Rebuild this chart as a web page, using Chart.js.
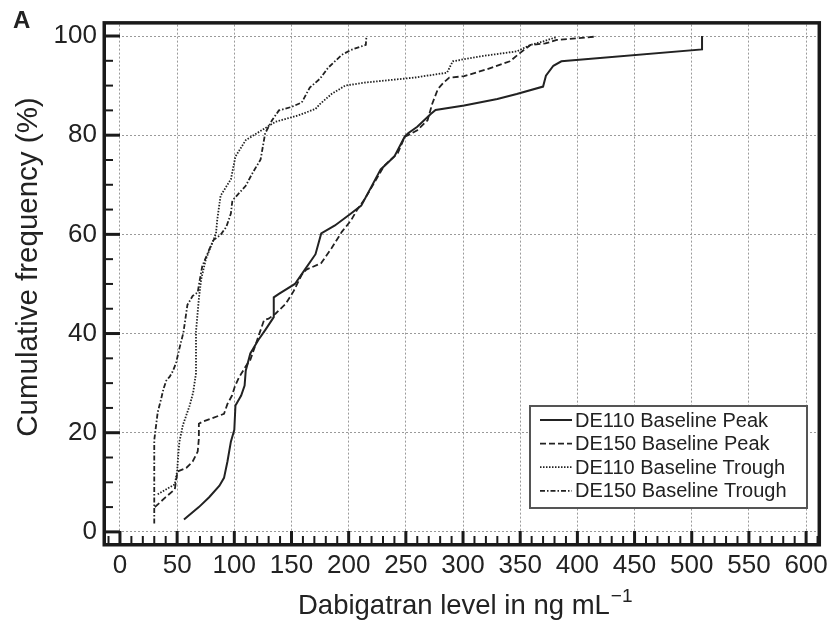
<!DOCTYPE html>
<html>
<head>
<meta charset="utf-8">
<script src="https://cdn.jsdelivr.net/npm/chart.js@4.4.1/dist/chart.umd.min.js"></script>
<style>
  body { margin: 0; background: #fff; }
  #wrap { width: 835px; height: 620px; }
</style>
</head>
<body>
<div id="wrap"><canvas id="cdf" width="835" height="620"></canvas></div>
<script>
// tick labels
const xTicks = [0, 50, 100, 150, 200, 250, 300, 350, 400, 450, 500, 550, 600];
const yTicks = [0, 20, 40, 60, 80, 100];

// series names
const seriesNames = ['DE110 Baseline Peak', 'DE150 Baseline Peak', 'DE110 Baseline Trough', 'DE150 Baseline Trough'];

// DE110 peak (solid)
const peak110X = [56, 69, 78, 87, 91, 94, 97, 100, 101, 106, 109, 110, 114, 121, 127, 134.5, 134.5, 139, 153, 162, 171, 176, 188, 202, 211, 228, 240, 249, 252, 260, 272, 276, 301, 330, 347, 370, 372.5, 379, 386, 509, 509];
const peak110Y = [2.5, 5, 7, 9.3, 10.9, 14.2, 18.2, 20.6, 25.5, 27.5, 29.5, 32.5, 36, 38.7, 40.7, 43.3, 47.3, 48, 50, 53, 56, 60.2, 61.8, 64.2, 65.8, 73.1, 75.7, 79.7, 80.4, 81.7, 84.3, 85.1, 86, 87.3, 88.3, 89.8, 92, 94, 94.9, 97.3, 100];

// DE150 peak (dashed)
const peak150X = [30.5, 40, 48, 49, 50.5, 58, 63.6, 68, 69, 69, 72, 91, 94, 98, 100.6, 104, 110, 114, 120, 126, 130, 136, 145, 152, 159, 163, 176, 185, 194, 202, 207, 214, 231, 243, 249, 252, 260, 269, 273, 278, 283, 288, 301, 321, 341, 350, 359, 372, 382, 417];
const peak150Y = [5, 7, 8.6, 10.3, 12.2, 12.9, 14.2, 16.2, 18.8, 21.8, 22.2, 23.8, 25.8, 27.5, 29.4, 31.1, 33.4, 34.7, 38.7, 42.7, 43, 44, 46, 48.6, 51.9, 52.9, 54.2, 57.2, 60.5, 62.8, 64.8, 67.1, 73.8, 76.4, 79.7, 80, 81, 83, 86.3, 89.3, 90.6, 91.6, 91.9, 93.3, 94.9, 96.6, 98.2, 98.5, 99.2, 99.9];

// DE110 trough (dotted)
const trough110X = [33, 48, 50, 51, 52, 55, 58, 61, 64, 66.5, 66.5, 69, 71, 75, 80, 84, 85, 88, 97, 101, 110, 124, 136, 156, 171, 175, 185, 197, 214, 257, 286, 291, 315, 347, 359, 370, 382];
const trough110Y = [7.6, 9.6, 12.2, 15.6, 18.2, 21.5, 23.5, 25.5, 28.1, 32, 40.4, 47, 50.9, 54.9, 57.9, 60.2, 62.8, 67.8, 71.1, 75.7, 79, 81, 82.7, 84, 85.3, 86.3, 88.3, 90, 90.6, 91.6, 92.6, 94.9, 95.9, 96.9, 98.2, 98.9, 99.8];

// DE150 trough (dash-dot)
const trough150X = [30, 30, 33, 36, 38, 40.5, 43.5, 46, 49, 52, 55.5, 59, 63.6, 68, 69.4, 72, 78, 82, 88, 93, 97, 98.3, 110, 116, 123, 127, 133, 139, 150, 159, 166, 175, 182, 194, 202, 211, 215, 215.5];
const trough150Y = [1.7, 18.5, 24.1, 26.8, 28.8, 30.5, 31.3, 32.3, 34, 37, 40.2, 45.8, 47.6, 48.3, 50.3, 53.6, 56.9, 58.9, 59.9, 61.5, 64.2, 66.8, 69.8, 72.4, 75.1, 80.4, 83, 85, 85.7, 86.6, 89.6, 91.4, 93.6, 96.2, 97.2, 97.9, 98.2, 99.9];

const FONT = '"Liberation Sans", Arial, Helvetica, sans-serif';
const INK = '#222';

function pts(xs, ys) {
    return xs.map((x, i) => ({ x: x, y: ys[i] }));
}

function lineSet(label, xs, ys, dash, width) {
    return {
        label: label,
        data: pts(xs, ys),
        showLine: true,
        borderColor: INK,
        borderWidth: width,
        borderDash: dash,
        pointRadius: 0,
        fill: false,
        tension: 0
    };
}

// minor ticks, frame, axis titles, panel letter
const decorations = {
    id: 'decorations',
    afterDraw(chart) {
        const ctx = chart.ctx;
        const a = chart.chartArea;
        const xs = chart.scales.x;
        const ys = chart.scales.y;
        ctx.save();
        ctx.strokeStyle = '#1a1a1a';
        // x ticks every 10, major every 50
        for (let v = -10; v <= 610; v += 10) {
            const px = xs.getPixelForValue(v);
            if (px < a.left || px > a.right) continue;
            const major = v % 50 === 0;
            ctx.lineWidth = major ? 3 : 2;
            ctx.beginPath();
            ctx.moveTo(px, a.bottom);
            ctx.lineTo(px, a.bottom - (major ? 12 : 7));
            ctx.stroke();
        }
        // y ticks every 5, major every 20
        for (let v = 0; v <= 100; v += 5) {
            const py = ys.getPixelForValue(v);
            const major = v % 20 === 0;
            ctx.lineWidth = major ? 3 : 2;
            ctx.beginPath();
            ctx.moveTo(a.left, py);
            ctx.lineTo(a.left + (major ? 14 : 7), py);
            ctx.stroke();
        }
        // frame
        ctx.lineWidth = 3.5;
        ctx.strokeRect(a.left - 1.75, a.top - 1.75, a.right - a.left + 3.5, a.bottom - a.top + 3.5);

        // axis titles
        ctx.fillStyle = INK;
        ctx.font = '27.5px ' + FONT;
        ctx.textBaseline = 'alphabetic';
        ctx.textAlign = 'left';
        const xt = 'Dabigatran level in ng mL';
        ctx.fillText(xt, 298, 614);
        const w = ctx.measureText(xt).width;
        ctx.font = '19px ' + FONT;
        ctx.fillText('\u22121', 298 + w + 1, 602);

        ctx.save();
        ctx.translate(37, 267);
        ctx.rotate(-Math.PI / 2);
        ctx.font = '29.5px ' + FONT;
        ctx.textAlign = 'center';
        ctx.fillText('Cumulative frequency (%)', 0, 0);
        ctx.restore();

        ctx.font = 'bold 24px ' + FONT;
        ctx.textAlign = 'left';
        ctx.fillText('A', 13, 28);
        ctx.restore();
    }
};

// legend drawn inside the plot area
const boxLegend = {
    id: 'boxLegend',
    afterDraw(chart) {
        const ctx = chart.ctx;
        const left = 530, top = 406, right = 807, bottom = 508;
        ctx.save();
        ctx.fillStyle = '#fff';
        ctx.fillRect(left, top, right - left, bottom - top);
        ctx.strokeStyle = '#555';
        ctx.lineWidth = 2;
        ctx.strokeRect(left, top, right - left, bottom - top);
        ctx.font = '20px ' + FONT;
        ctx.textBaseline = 'middle';
        ctx.textAlign = 'left';
        chart.data.datasets.forEach((ds, i) => {
            const y = 420 + i * 23.6;
            ctx.strokeStyle = INK;
            ctx.lineWidth = ds.borderWidth;
            ctx.setLineDash(ds.borderDash);
            ctx.beginPath();
            ctx.moveTo(540, y);
            ctx.lineTo(572, y);
            ctx.stroke();
            ctx.setLineDash([]);
            ctx.fillStyle = INK;
            ctx.fillText(ds.label, 575, y + 1);
        });
        ctx.restore();
    }
};

const chart = new Chart(document.getElementById('cdf'), {
    type: 'scatter',
    data: {
        datasets: [
            lineSet(seriesNames[0], peak110X, peak110Y, [], 2),
            lineSet(seriesNames[1], peak150X, peak150Y, [6, 3], 1.8),
            lineSet(seriesNames[2], trough110X, trough110Y, [1.5, 1.5], 1.8),
            lineSet(seriesNames[3], trough150X, trough150Y, [5, 2, 1.5, 2], 1.8)
        ]
    },
    options: {
        responsive: false,
        animation: false,
        devicePixelRatio: 1,
        layout: { padding: { left: 0, top: 16, right: 13, bottom: 0 } },
        plugins: {
            legend: { display: false },
            tooltip: { enabled: false }
        },
        scales: {
            x: {
                type: 'linear',
                min: -12.2,
                max: 610,
                afterBuildTicks: s => { s.ticks = xTicks.map(v => ({ value: v })); },
                afterFit: s => { s.height = 77; },
                grid: { color: '#9a9a9a', lineWidth: 1, drawTicks: false },
                border: { display: false, dash: [2, 2] },
                ticks: {
                    font: { family: FONT, size: 26 },
                    color: INK,
                    padding: 7,
                    maxRotation: 0,
                    autoSkip: false,
                    callback: v => String(v)
                }
            },
            y: {
                type: 'linear',
                min: -2.24,
                max: 102.3,
                afterBuildTicks: s => { s.ticks = yTicks.map(v => ({ value: v })); },
                afterFit: s => { s.width = 106; },
                grid: { color: '#9a9a9a', lineWidth: 1, drawTicks: false },
                border: { display: false, dash: [2, 2] },
                ticks: {
                    font: { family: FONT, size: 26 },
                    color: INK,
                    padding: 9,
                    callback: v => String(v)
                }
            }
        }
    },
    plugins: [decorations, boxLegend]
});
</script>
</body>
</html>
